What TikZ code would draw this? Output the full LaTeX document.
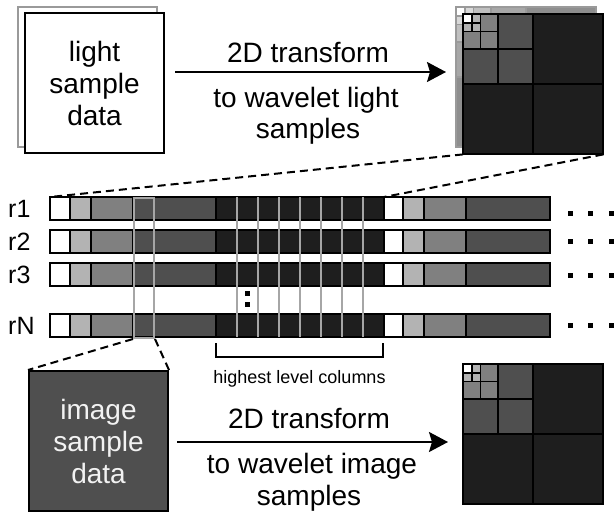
\documentclass[tikz,border=0pt]{standalone}
\usepackage{fontspec}
\setmainfont{Liberation Sans}
\usetikzlibrary{arrows.meta}

% grey levels of the wavelet coefficients (coarse -> fine)
\definecolor{lv1}{HTML}{B3B3B3}
\definecolor{lv2}{HTML}{808080}
\definecolor{lv3}{HTML}{4F4F4F}
\definecolor{lv4}{HTML}{1E1E1E}
\colorlet{fd1}{lv1!50!white}
\colorlet{fd2}{lv2!50!white}
\colorlet{fd3}{lv3!50!white}
\colorlet{fd4}{lv4!50!white}
\definecolor{colline}{HTML}{A6A6A6}
\definecolor{fdline}{HTML}{9A9A9A}

\tikzset{
  bigtext/.style={font=\fontsize{28}{32}\selectfont},
  smalltext/.style={font=\fontsize{18}{21}\selectfont},
  rowlabel/.style={font=\fontsize{25}{28}\selectfont, inner sep=0pt, anchor=base west},
  databox/.style={draw, line width=2pt, minimum width=139pt, minimum height=140pt,
                  inner sep=0pt, align=center, bigtext},
  arr/.style={line width=2pt, -{Stealth[length=19pt, width=20pt, inset=3pt]}},
  guide/.style={line width=2pt, dash pattern=on 8pt off 5pt},
  seg/.style={draw=black, line width=2pt},
  dotmark/.style={fill=black},
}

% a two-dimensional wavelet square: #1 name, #2 top-left, #3 line colour,
% #4..#7 fills of the finer to coarser detail levels
\newcommand\waveletsq[7]{%
  \node[minimum size=140pt, inner sep=0pt, anchor=north west, fill=#7] (#1) at #2 {};
  \begin{scope}[shift={(#1.north west)}]
    \fill[#6] (0,0) rectangle (70,70);
    \fill[#5] (0,0) rectangle (35,35);
    \fill[#4] (0,0) rectangle (17.5,17.5);
    \fill[white] (0,0) rectangle (8.75,8.75);
    \draw[#3, line width=1.5pt]
      (70,0) -- (70,140) (0,70) -- (140,70)
      (35,0) -- (35,70) (0,35) -- (70,35)
      (17.5,0) -- (17.5,35) (0,17.5) -- (35,17.5)
      (8.75,0) -- (8.75,17.5) (0,8.75) -- (17.5,8.75)
      (0,0) rectangle (140,140);
  \end{scope}}

% one row of concatenated wavelet samples: #1 name, #2 top y
\newcommand\samplerow[2]{%
  \foreach \xa/\xb/\cc in {50/70/white,70/91/lv1,91/133/lv2,133/216/lv3,216/384/lv4,
                           384/403/white,403/424/lv1,424/466/lv2,466/550/lv3}
    \filldraw[seg, fill=\cc] (\xa,#2) rectangle (\xb,#2+23);
  \coordinate (#1-nw) at (50,#2);
  \coordinate (#1-mid) at (384,#2);}

\begin{document}
\begin{tikzpicture}[x=1pt, y=-1pt]
  \useasboundingbox (0,0) rectangle (615,514);

  % light sample data (stacked)
  \node[databox, draw=fdline, fill=white] (lightback) at (87.5,76.5) {};
  \node[databox, fill=white] (lightbox) at (94.5,83) {light\\sample\\data};

  % upper transform arrow
  \coordinate (a1s) at (175,72);
  \coordinate (a1e) at (446,72);
  \draw[arr] (a1s) -- (a1e);
  \node[bigtext, inner sep=0pt, anchor=base] (t1a) at (308,62) {2D transform};
  \node[bigtext, inner sep=0pt, anchor=base] (t1b) at (306,107) {to wavelet light};
  \node[bigtext, inner sep=0pt, anchor=base] (t1c) at (308,138) {samples};

  % wavelet light samples (stacked)
  \waveletsq{wlback}{(456,7)}{fdline}{fd1}{fd2}{fd3}{fd4}
  \waveletsq{wltop}{(463,14)}{black}{lv1}{lv2}{lv3}{lv4}

  % rows of samples
  \samplerow{r1}{197}
  \samplerow{r2}{230}
  \samplerow{r3}{263}
  \samplerow{rN}{314}
  \node[rowlabel] (l1) at (8,217.5) {r1};
  \node[rowlabel] (l2) at (8,250.5) {r2};
  \node[rowlabel] (l3) at (8,283.5) {r3};
  \node[rowlabel] (lN) at (8,334.5) {rN};

  % highlighted column and highest level columns
  \node[draw=colline, line width=2pt, minimum width=20pt, minimum height=140pt,
        inner sep=0pt, anchor=north west] (hcol) at (133,197) {};
  \foreach \xc in {237,258,279,300,321,342,363}
    \draw[colline, line width=2pt] (\xc,197) -- (\xc,337);

  % vertical ellipsis between r3 and rN
  \fill[dotmark] (245,291) rectangle (250,296);
  \fill[dotmark] (245,302) rectangle (250,307);

  % horizontal ellipses
  \foreach \yd in {211,239,273,322.5}
    \foreach \xd in {568,588,609}
      \fill[dotmark] (\xd,\yd) rectangle +(5,5);

  % zoom guides from the wavelet square to the first row
  \draw[guide] (wltop.south west) -- (r1-nw);
  \draw[guide] (wltop.south east) -- (r1-mid);

  % bracket of the highest level columns
  \coordinate (bl) at (216,343);
  \coordinate (br) at (383,343);
  \draw[line width=2pt] (bl) -- ++(0,14) -| (br);
  \node[smalltext, inner sep=0pt, anchor=base] (hlc) at (299.5,383) {highest level columns};

  % image sample data
  \node[databox, fill=lv3, text=white!95!black] (imgbox) at (98.5,441) {image\\sample\\data};
  \draw[guide] (hcol.south west) -- (imgbox.north west);
  \draw[guide] (hcol.south east) -- (imgbox.north east);

  % lower transform arrow
  \coordinate (a2s) at (177,442);
  \coordinate (a2e) at (448,442);
  \draw[arr] (a2s) -- (a2e);
  \node[bigtext, inner sep=0pt, anchor=base] (t2a) at (309,428) {2D transform};
  \node[bigtext, inner sep=0pt, anchor=base] (t2b) at (312,473) {to wavelet image};
  \node[bigtext, inner sep=0pt, anchor=base] (t2c) at (309,505) {samples};

  % wavelet image samples
  \waveletsq{wimg}{(463,364)}{black}{lv1}{lv2}{lv3}{lv4}
\end{tikzpicture}
\end{document}
